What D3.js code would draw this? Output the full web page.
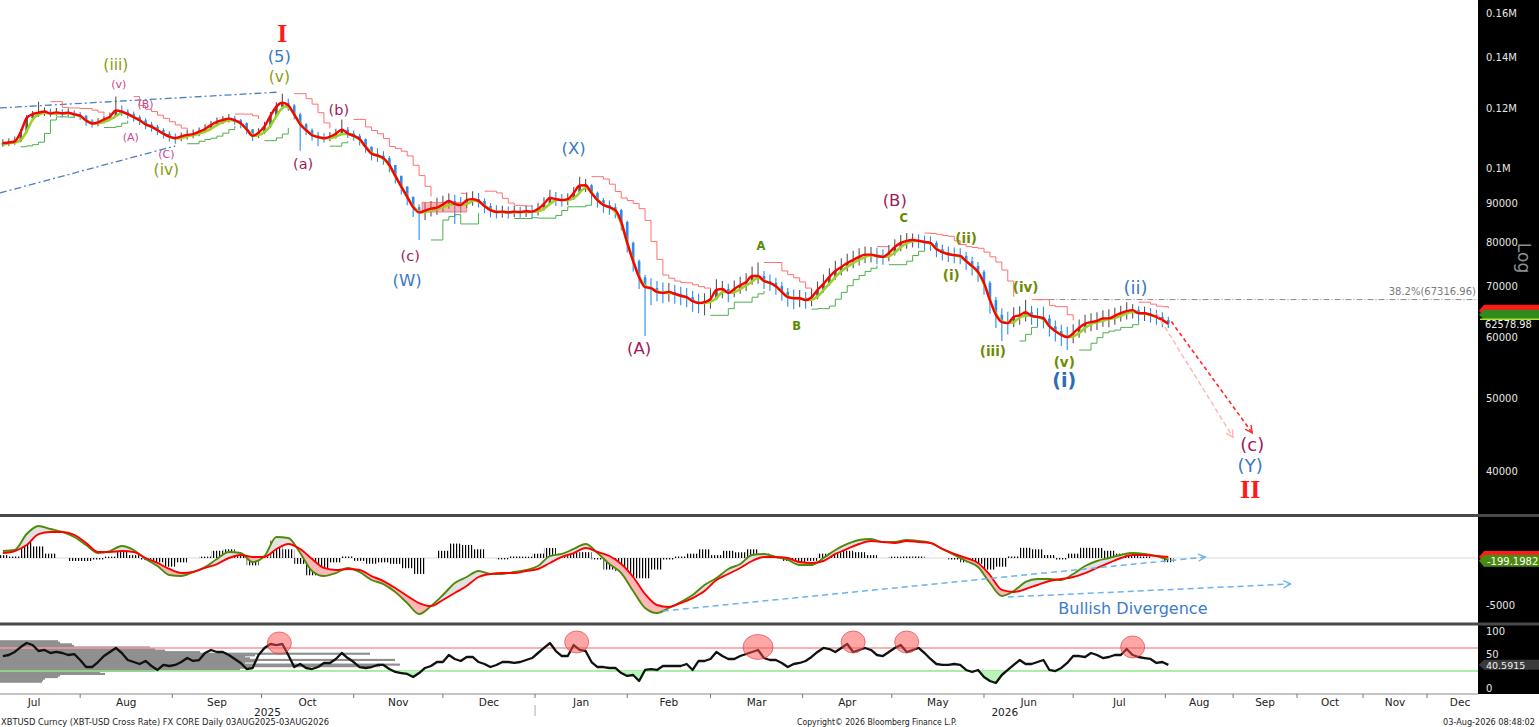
<!DOCTYPE html>
<html>
<head>
<meta charset="utf-8">
<script src="https://cdn.jsdelivr.net/npm/d3@7/dist/d3.min.js"></script>
<style>
  html, body { margin:0; padding:0; background:#fff; overflow:hidden; }
  svg { display:block; }
  text { font-family: "DejaVu Sans", Verdana, sans-serif; }
</style>
</head>
<body>
<svg id="chart" width="1539" height="727"></svg>
<script>
// ================= DATA =================
const barStart = "2025-07-06";
const barStepDays = 2;
const firstOpenK = 107.5;
const closeK = [
 108.0,108.2,108.6,111.7,116.5,117.9,118.4,118.8,118.1,118.5,
 118.2,118.4,117.8,117.3,115.6,114.6,115.0,116.0,117.0,119.2,
 118.8,117.9,116.8,115.7,114.3,113.5,112.3,111.1,110.1,109.6,
 110.2,110.7,111.0,111.8,112.7,114.1,115.2,115.8,116.3,115.7,
 114.7,112.6,110.4,111.5,113.6,117.3,120.6,122.0,121.0,117.8,
 114.3,112.3,110.6,110.0,109.6,110.1,111.1,112.5,111.2,110.4,
 109.3,106.8,104.6,104.0,103.2,101.1,97.8,94.7,91.8,89.0,
 87.6,88.1,88.6,88.9,89.7,90.7,89.9,89.6,90.9,91.2,
 90.7,89.3,88.2,87.7,87.8,87.6,87.8,87.7,87.9,87.8,
 88.5,89.9,91.5,91.2,90.9,91.2,92.9,95.0,95.1,92.9,
 90.9,89.6,89.0,88.2,85.1,79.9,75.6,72.0,69.9,69.7,
 68.9,68.7,68.9,68.5,68.1,67.8,67.0,66.6,66.8,67.4,
 69.3,69.5,68.7,69.5,70.3,71.0,72.3,72.3,71.2,70.8,
 70.1,68.9,67.8,67.6,67.6,67.2,67.8,69.3,70.6,72.1,
 73.4,74.3,75.2,75.9,76.6,77.1,77.1,76.8,76.6,77.5,
 78.9,79.9,80.4,80.6,80.4,80.1,79.9,78.4,77.7,77.2,
 77.0,76.8,75.6,74.5,73.2,70.8,67.2,64.3,62.9,62.7,
 63.9,64.2,64.8,64.1,63.9,63.6,62.1,61.2,60.5,60.1,
 60.8,61.8,62.6,62.9,63.1,63.6,63.6,64.1,64.6,65.0,
 65.2,64.6,64.6,64.3,63.9,63.3,62.58];
const highK = [
 109.3,109.5,110.2,112.5,117.6,119.0,122.4,120.3,119.8,120.1,
 119.6,119.9,119.3,118.6,117.5,116.1,116.4,117.3,118.5,124.3,
 121.0,119.6,118.8,117.5,116.4,115.2,114.1,113.0,111.9,111.2,
 111.5,112.2,112.5,113.2,114.3,115.5,116.7,117.2,117.9,117.3,
 116.2,114.9,112.5,113.0,115.2,118.6,122.2,125.4,123.5,121.5,
 118.4,114.8,112.9,111.8,111.3,111.7,112.8,116.0,113.4,112.2,
 111.1,109.5,106.9,106.3,105.4,103.9,101.0,97.9,94.8,91.9,
 89.8,90.2,90.7,91.6,92.1,92.8,92.4,91.8,93.0,93.4,
 92.9,91.4,90.1,89.5,89.4,89.2,89.3,89.1,89.4,89.5,
 90.2,91.7,93.8,93.2,92.6,92.8,94.6,97.6,96.9,95.4,
 93.3,91.5,90.8,90.0,88.6,85.5,80.2,76.0,72.5,71.8,
 71.2,70.9,70.8,70.4,70.0,69.7,69.1,68.5,68.6,69.4,
 71.6,71.2,70.6,71.3,72.1,72.9,74.4,75.3,73.4,72.6,
 71.9,71.0,69.7,69.4,69.3,68.9,69.5,71.1,72.6,74.0,
 75.7,76.3,77.3,78.0,78.6,79.0,78.9,78.7,78.4,79.4,
 80.8,81.8,82.3,82.2,82.0,81.7,81.5,80.4,79.5,79.0,
 78.8,78.6,77.7,76.6,75.4,73.6,71.2,67.9,65.6,64.9,
 65.8,66.0,67.3,66.1,65.6,65.9,64.3,63.2,62.4,62.0,
 62.5,63.4,64.3,64.6,64.8,65.2,65.4,65.7,66.1,66.8,
 66.4,66.0,65.9,65.6,65.3,64.8,63.9];
const lowK = [
 106.8,107.1,107.5,108.3,111.2,115.8,116.9,117.2,116.9,117.3,
 116.8,117.1,116.5,115.9,113.8,113.2,113.6,114.7,115.6,116.9,
 117.2,116.3,115.2,114.1,112.6,111.8,110.7,109.5,108.5,107.8,
 108.6,109.2,109.6,110.3,111.3,112.5,113.8,114.4,114.9,114.2,
 113.0,110.9,108.8,109.7,111.0,113.1,116.8,119.6,119.0,116.0,
 105.5,110.6,108.8,107.0,108.1,108.6,109.5,110.8,109.7,108.8,
 107.2,104.9,102.5,102.0,101.2,98.9,95.6,92.5,89.5,86.4,
 80.6,85.6,86.5,87.0,87.8,88.6,84.6,87.5,88.8,89.4,
 88.9,87.4,86.3,86.0,86.2,86.0,86.3,86.2,86.4,86.1,
 86.8,88.1,89.7,89.3,89.1,89.5,91.0,92.8,93.2,91.0,
 88.9,87.5,87.0,86.1,83.0,77.6,73.3,69.5,60.3,66.2,
 67.0,66.6,66.9,66.5,66.2,65.8,64.9,64.6,64.2,65.5,
 67.3,67.6,66.8,67.8,68.5,69.1,70.4,70.6,69.5,69.1,
 68.3,67.1,65.9,65.4,65.8,65.5,66.0,67.4,68.8,70.2,
 71.5,72.4,73.3,74.0,74.6,75.2,75.3,74.9,74.8,75.6,
 76.9,77.9,78.5,78.8,78.6,78.3,78.0,76.5,75.8,75.4,
 75.1,74.9,73.6,72.4,71.0,68.3,64.5,61.8,59.4,60.6,
 61.9,62.4,63.0,62.4,62.1,61.7,60.2,59.3,58.5,57.8,
 59.0,60.0,60.9,61.2,61.4,62.0,61.9,62.4,63.0,63.4,
 63.6,63.0,63.1,62.8,62.4,61.9,61.8];

const macdStepDays = 4;
const macdVals = [
 740,850,2550,3400,3090,2770,2230,1380,530,740,
 1280,850,-110,-850,-1810,-1920,-1490,-960,-110,640,
 530,-430,210,2230,2130,530,-1380,-1920,-1600,-1060,
 -1490,-2340,-2770,-3620,-4790,-5960,-5110,-3940,-2660,-2020,
 -1380,-1700,-1700,-1490,-1280,-850,210,430,960,1490,
 530,-640,-1600,-3510,-5320,-5850,-5320,-4680,-3940,-2870,
 -2130,-1170,-640,320,430,110,-210,-740,-740,0,
 850,1490,1920,2020,1700,1700,1920,1810,1600,960,
 320,-320,-960,-2660,-4040,-3510,-2550,-2230,-2230,-2340,
 -1700,-850,-320,0,320,530,430,210,-199];
const signalVals = [
 530,740,1380,2550,2770,2770,2450,1600,640,640,
 740,640,0,-530,-1170,-1600,-1490,-1060,-640,0,
 320,110,110,960,1490,960,-110,-1060,-1280,-1170,
 -1280,-1920,-2450,-3190,-4040,-4790,-5110,-4470,-3720,-2980,
 -2020,-1700,-1600,-1600,-1380,-1170,-530,110,530,1060,
 640,210,-640,-2020,-3830,-5000,-5210,-4790,-4260,-3510,
 -2340,-1700,-1060,-320,110,110,0,-430,-530,-320,
 430,960,1490,1810,1700,1600,1810,1700,1600,960,
 430,0,-530,-1810,-3400,-3620,-3300,-2870,-2450,-2230,
 -2020,-1600,-1060,-530,0,320,320,210,110];

const rsiVals = [
 56.1,57.9,63.2,71.9,78.9,75.4,64.9,66.7,61.4,63.2,
 61.4,57.9,59.6,49.1,36.8,36.8,45.6,56.1,63.2,70.2,
 61.4,49.1,45.6,42.1,47.4,38.6,31.6,40.4,38.6,40.4,
 45.6,52.6,47.4,49.1,61.4,66.7,63.2,63.2,57.9,50.9,
 43.9,33.3,35.1,57.9,70.2,77.2,75.4,77.2,57.9,36.8,
 42.1,35.1,33.3,36.8,43.9,43.9,50.9,61.4,52.6,45.6,
 36.8,35.1,36.8,40.4,40.4,33.3,28.1,26.3,24.6,19.3,
 26.3,35.1,38.6,45.6,45.6,57.9,50.9,47.4,54.4,54.4,
 45.6,42.1,36.8,40.4,45.6,45.6,43.9,45.6,49.1,52.6,
 61.4,70.2,78.9,64.9,56.1,56.1,75.4,66.7,64.9,45.6,
 36.8,36.8,35.1,35.1,26.3,21.1,22.8,12.3,31.6,33.3,
 31.6,38.6,38.6,38.6,38.6,42.1,31.6,47.4,47.4,50.9,
 63.2,56.1,50.9,50.9,56.1,59.6,63.2,66.7,52.6,49.1,
 49.1,43.9,36.8,42.1,43.9,47.4,54.4,63.2,70.2,68.4,
 63.2,70.2,77.2,63.2,66.7,70.2,66.7,57.9,56.1,63.2,
 70.2,75.4,63.2,66.7,70.2,61.4,50.9,42.1,40.4,40.4,
 42.1,40.4,31.6,28.1,31.6,19.3,12.3,8.8,22.8,31.6,
 40.4,49.1,42.1,42.1,45.6,49.1,31.6,29.8,35.1,43.9,
 56.1,56.1,54.4,61.4,57.9,52.6,54.4,57.9,57.9,68.4,
 57.9,54.4,52.6,50.9,43.9,45.6,40.59];

const profileVolume = [58,60,72,74,150,155,165,200,370,255,245,250,395,255,245,400,380,250,240,155,100,105,60,58,45,43,42];

const priceTicks = [160000,140000,120000,100000,90000,80000,70000,60000,50000,40000];
const priceTickLabels = ["0.16M","0.14M","0.12M","0.1M","90000","80000","70000","60000","50000","40000"];

const waveText   = ["I","(5)","(v)","(iii)","(v)","(B)","(A)","(C)","(iv)","(a)","(b)","(c)","(W)","(X)","(A)","A","B","(B)","C","(ii)","(i)","(iv)","(iii)","(v)","(i)","(ii)","(c)","(Y)","II"];
const waveDegree = ["cycle","primary","minor","minor","minute","minute","minute","minute","minor","inter","inter","inter","primary","primary","interL","abc","abc","interL","abc","minorB","minorB","minorB","minorB","minorB","primaryB","primaryL","interXL","primaryL","cycleL"];
const waveDate   = ["2025-10-08","2025-10-07","2025-10-07","2025-08-13","2025-08-14","2025-08-23","2025-08-18","2025-08-30","2025-08-30","2025-10-15","2025-10-27","2025-11-20","2025-11-19","2026-01-14","2026-02-05","2026-03-18","2026-03-30","2026-05-02","2026-05-05","2026-05-26","2026-05-21","2026-06-15","2026-06-04","2026-06-28","2026-06-28","2026-07-22","2026-09-10","2026-09-09","2026-09-09"];
const wavePriceK = [150.6,140.1,131.9,136.7,129.1,121.2,109.7,104.2,99.6,101.4,119.4,76.8,71.4,106.1,58.0,79.1,62.1,90.7,86.1,81.1,72.5,69.9,57.7,55.8,52.8,69.9,43.4,40.8,37.9];

const trendUpper = [["2025-07-05",120.1],["2025-10-07",126.0]];
const trendLower = [["2025-07-05",92.9],["2025-09-02",107.1]];
const zoneDates = ["2025-11-24","2025-12-09"];
const zonePriceK = [87.7, 90.3];
const fibLevel = 67316.96, fibStart = "2026-06-19", fibLabel = "38.2%(67316.96)";
const projRed  = [["2026-08-03",63.0],["2026-09-10",45.0]];
const projPink = [["2026-07-29",64.6],["2026-09-01",44.4]];
const divLine1 = [["2026-02-13",-5640],["2026-08-19",106]];
const divLine2 = [["2026-06-09",-4150],["2026-09-28",-2766]];
const divText = "Bullish Divergence", divTextAt = ["2026-06-26",-5320];
const rsiCircleDates = ["2025-10-07","2026-01-15","2026-03-17","2026-04-18","2026-05-06","2026-07-21"];
const rsiCircleVals  = [79,80.7,72,80.7,80.7,72];
const lastClose = 62578.98, lastRedMA = 65100, lastGreenMA = 64300;
const lastMacdText = "-199.1982", lastRsiText = "40.5915";
const yearLabels = [["2025","2025-10-03"],["2026","2026-06-08"]];
const footLeft = "XBTUSD Curncy (XBT-USD Cross Rate) FX CORE Daily 03AUG2025-03AUG2026";
const footMid = "Copyright\u00A9 2026 Bloomberg Finance L.P.";
const footRight = "03-Aug-2026 08:48:02";

// ================= RENDER =================
const W = 1539, H = 727, PR = 1478;
const svg = d3.select("#chart");
const P = d3.utcParse("%Y-%m-%d");
const x = d3.scaleUtc().domain([P("2025-07-01"), P("2026-08-03"), P("2026-12-01")]).range([-12, 1171.3, 1427]);
const yP = d3.scaleLog().domain([160000, 40000]).range([13, 471.9]);
const yM = d3.scaleLinear().domain([0, -5000]).range([558, 605]);
const yH = d3.scaleLinear().domain([0, -5000]).range([558, 626]);
const yR = d3.scaleLinear().domain([0, 100]).range([688, 631]);

const defs = svg.append("defs");
function clip(id, x0, y0, w, h) {
  defs.append("clipPath").attr("id", id).append("rect").attr("x", x0).attr("y", y0).attr("width", w).attr("height", h);
}
clip("clipMain", 0, 0, PR, 514);
clip("clipMacd", 0, 517, PR, 105);
clip("clipRsi", 0, 626, PR, 67);
const pat = defs.append("pattern").attr("id", "comb").attr("patternUnits", "userSpaceOnUse").attr("width", 3).attr("height", 6);
pat.append("rect").attr("x", 0).attr("y", 0).attr("width", 1.2).attr("height", 6).attr("fill", "#000");
function marker(id, color) {
  defs.append("marker").attr("id", id).attr("viewBox", "0 0 10 10").attr("refX", 9).attr("refY", 5)
    .attr("markerWidth", 9).attr("markerHeight", 9).attr("markerUnits", "userSpaceOnUse").attr("orient", "auto")
    .append("path").attr("d", "M1,1 L9,5 L1,9").attr("fill", "none").attr("stroke", color).attr("stroke-width", 1.5);
}
marker("mRed", "#ff2a2a"); marker("mPink", "#ffb4b4"); marker("mBlue", "#6cb2f2");

svg.append("rect").attr("width", W).attr("height", H).attr("fill", "#fff");

// ---------- main panel ----------
const t0 = P(barStart);
const bars = closeK.map((c, i) => {
  const o = (i ? closeK[i - 1] : firstOpenK) * 1000, cc = c * 1000;
  return { date: d3.utcDay.offset(t0, i * barStepDays), o, c: cc,
           h: Math.max(highK[i] * 1000, o, cc), l: Math.min(lowK[i] * 1000, o, cc) };
});
const gM = svg.append("g").attr("clip-path", "url(#clipMain)");

// trendlines
const ptLine = d3.line().x(d => x(P(d[0]))).y(d => yP(d[1] * 1000));
[trendUpper, trendLower].forEach(t => gM.append("path").attr("d", ptLine(t)).attr("fill", "none")
  .attr("stroke", "#4a7fc1").attr("stroke-width", 1.3).attr("stroke-dasharray", "7,3,2,3"));

// fib line
gM.append("line").attr("x1", x(P(fibStart))).attr("x2", PR).attr("y1", yP(fibLevel)).attr("y2", yP(fibLevel))
  .attr("stroke", "#8a8a8a").attr("stroke-width", 1).attr("stroke-dasharray", "6,2,1,2");
gM.append("text").attr("x", PR - 2).attr("y", yP(fibLevel) - 5).attr("text-anchor", "end")
  .attr("font-size", 10).attr("fill", "#7a7a7a").text(fibLabel);

// step (trailing) lines
const stepData = bars.map((b, i) => {
  if (i < 3) return { date: b.date, u: null, l: null };
  const u = d3.max(highK.slice(i - 3, i)) * 1000, l = d3.min(lowK.slice(i - 3, i)) * 1000;
  const tr = (closeK[i] - closeK[i - 3]) / closeK[i];
  return { date: b.date, u: tr <= 0.006 ? u : null, l: tr >= -0.006 ? l : null };
});
gM.append("path").attr("d", d3.line().defined(d => d.u != null).x(d => x(d.date)).y(d => yP(d.u)).curve(d3.curveStepAfter)(stepData))
  .attr("fill", "none").attr("stroke", "#ff7070").attr("stroke-width", 1);
gM.append("path").attr("d", d3.line().defined(d => d.l != null).x(d => x(d.date)).y(d => yP(d.l)).curve(d3.curveStepAfter)(stepData))
  .attr("fill", "none").attr("stroke", "#4fae4f").attr("stroke-width", 1);

// candles
const gC = gM.append("g");
bars.forEach(b => {
  const col = b.c >= b.o ? "#555" : "#2a8cf0";
  const xx = x(b.date);
  gC.append("line").attr("x1", xx).attr("x2", xx).attr("y1", yP(b.h)).attr("y2", yP(b.l)).attr("stroke", col).attr("stroke-width", 1.1);
  const yt = yP(Math.max(b.o, b.c)), yb = yP(Math.min(b.o, b.c));
  gC.append("rect").attr("x", xx - 1.3).attr("width", 2.6).attr("y", yt).attr("height", Math.max(1.2, yb - yt)).attr("fill", col);
});

// zone box
gM.append("rect").attr("x", x(P(zoneDates[0]))).attr("width", x(P(zoneDates[1])) - x(P(zoneDates[0])))
  .attr("y", yP(zonePriceK[1] * 1000)).attr("height", yP(zonePriceK[0] * 1000) - yP(zonePriceK[1] * 1000))
  .attr("fill", "rgba(240,90,90,0.45)").attr("stroke", "rgba(230,70,70,0.55)").attr("stroke-width", 1);

// moving-average lines
gM.append("path").attr("d", d3.line().x(d => x(d.date)).y(d => yP(Math.min(d.o, d.c))).curve(d3.curveBasis)(bars))
  .attr("fill", "none").attr("stroke", "#9ad12a").attr("stroke-width", 2.6);
gM.append("path").attr("d", d3.line().x(d => x(d.date)).y(d => yP(d.c)).curve(d3.curveMonotoneX)(bars))
  .attr("fill", "none").attr("stroke", "#ff0000").attr("stroke-width", 2.4);

// projections
gM.append("path").attr("d", ptLine(projPink)).attr("fill", "none").attr("stroke", "#ffb4b4")
  .attr("stroke-width", 1.4).attr("stroke-dasharray", "5,3").attr("marker-end", "url(#mPink)");
gM.append("path").attr("d", ptLine(projRed)).attr("fill", "none").attr("stroke", "#ff2a2a")
  .attr("stroke-width", 1.6).attr("stroke-dasharray", "4,3").attr("marker-end", "url(#mRed)");

// wave labels
const serif = "'Liberation Serif','DejaVu Serif',serif";
const LS = {
  cycle:   { c: "#ff1a1a", s: 26, w: "bold", f: serif },
  cycleL:  { c: "#ff1a1a", s: 26, w: "bold", f: serif },
  primary: { c: "#3b78c2", s: 16.5, w: "normal" },
  primaryL:{ c: "#3b78c2", s: 18, w: "normal" },
  primaryB:{ c: "#2d6db8", s: 19, w: "bold" },
  inter:   { c: "#a01a5c", s: 14.5, w: "normal" },
  interL:  { c: "#a01a5c", s: 16.5, w: "normal" },
  interXL: { c: "#a01a5c", s: 18, w: "normal" },
  minor:   { c: "#8b9c12", s: 15.5, w: "normal" },
  minute:  { c: "#cc4593", s: 11, w: "normal" },
  abc:     { c: "#5a8c00", s: 11.5, w: "bold" },
  minorB:  { c: "#6f8c00", s: 13.5, w: "bold" }
};
waveText.forEach((t, i) => {
  const st = LS[waveDegree[i]];
  const tx = svg.append("text").attr("x", x(P(waveDate[i]))).attr("y", yP(wavePriceK[i] * 1000))
    .attr("text-anchor", "middle").attr("dominant-baseline", "central")
    .attr("font-size", st.s).attr("font-weight", st.w).attr("fill", st.c).text(t);
  if (st.f) tx.style("font-family", st.f);
});

// ---------- MACD panel ----------
const gD = svg.append("g").attr("clip-path", "url(#clipMacd)");
const macdData = macdVals.map((v, i) => ({ date: d3.utcDay.offset(t0, i * macdStepDays), m: v, s: signalVals[i] }));
gD.append("line").attr("x1", 0).attr("x2", PR).attr("y1", yM(0)).attr("y2", yM(0)).attr("stroke", "#d9d9d9").attr("stroke-width", 1);
macdData.forEach(d => {
  const h = d.m - d.s;
  const x0 = x(d3.utcDay.offset(d.date, -2)), x1 = x(d3.utcDay.offset(d.date, 2));
  const ya = yH(0), yb = yH(h);
  if (Math.abs(yb - ya) < 0.5) return;
  gD.append("rect").attr("x", x0).attr("width", x1 - x0).attr("y", Math.min(ya, yb)).attr("height", Math.abs(yb - ya)).attr("fill", "url(#comb)");
});
const cv = d3.curveMonotoneX;
defs.append("clipPath").attr("id", "clipAboveSig").append("path")
  .attr("d", d3.area().x(d => x(d.date)).y0(517).y1(d => yM(d.s)).curve(cv)(macdData));
defs.append("clipPath").attr("id", "clipBelowSig").append("path")
  .attr("d", d3.area().x(d => x(d.date)).y0(622).y1(d => yM(d.s)).curve(cv)(macdData));
const between = d3.area().x(d => x(d.date)).y0(d => yM(d.m)).y1(d => yM(d.s)).curve(cv);
gD.append("g").attr("clip-path", "url(#clipAboveSig)").append("path").attr("d", between(macdData)).attr("fill", "#e2e2e2");
gD.append("g").attr("clip-path", "url(#clipBelowSig)").append("path").attr("d", between(macdData)).attr("fill", "#ffb8b8");
gD.append("path").attr("d", d3.line().x(d => x(d.date)).y(d => yM(d.m)).curve(cv)(macdData))
  .attr("fill", "none").attr("stroke", "#4e8a0a").attr("stroke-width", 1.9);
gD.append("path").attr("d", d3.line().x(d => x(d.date)).y(d => yM(d.s)).curve(cv)(macdData))
  .attr("fill", "none").attr("stroke", "#ff0000").attr("stroke-width", 1.9);
const mLine = d3.line().x(d => x(P(d[0]))).y(d => yM(d[1]));
[divLine1, divLine2].forEach(l => gD.append("path").attr("d", mLine(l)).attr("fill", "none").attr("stroke", "#6cb2f2")
  .attr("stroke-width", 1.5).attr("stroke-dasharray", "6,4").attr("marker-end", "url(#mBlue)"));
gD.append("text").attr("x", x(P(divTextAt[0]))).attr("y", yM(divTextAt[1])).attr("dominant-baseline", "central")
  .attr("font-size", 16).attr("fill", "#3d7cc9").text(divText);

// ---------- RSI panel ----------
const gR = svg.append("g").attr("clip-path", "url(#clipRsi)");
const yProf = d3.scaleBand().domain(d3.range(profileVolume.length)).range([640.5, 682.5]);
const xProf = d3.scaleLinear().domain([0, 400]).range([0, 400]);
profileVolume.forEach((v, i) => gR.append("rect").attr("x", 0).attr("y", yProf(i) - 0.3).attr("width", xProf(v))
  .attr("height", yProf.bandwidth() + 0.6).attr("fill", "#8f8f8f"));
gR.append("line").attr("x1", 0).attr("x2", PR).attr("y1", yR(70)).attr("y2", yR(70)).attr("stroke", "#f59a9a").attr("stroke-width", 1.5);
gR.append("line").attr("x1", 0).attr("x2", PR).attr("y1", yR(30)).attr("y2", yR(30)).attr("stroke", "#8de88d").attr("stroke-width", 1.5);
const rsiData = rsiVals.slice(0, bars.length).map((v, i) => ({ date: bars[i].date, v }));
gR.append("path").attr("d", d3.area().x(d => x(d.date)).y0(yR(30)).y1(d => yR(Math.min(d.v, 30)))(rsiData)).attr("fill", "#b8f5b8");
gR.append("path").attr("d", d3.line().x(d => x(d.date)).y(d => yR(d.v))(rsiData))
  .attr("fill", "none").attr("stroke", "#111").attr("stroke-width", 2.3).attr("stroke-linejoin", "round");
rsiCircleDates.forEach((d, i) => gR.append("ellipse").attr("cx", x(P(d))).attr("cy", yR(rsiCircleVals[i]))
  .attr("rx", i === 2 ? 15 : 12).attr("ry", i === 2 ? 12.5 : 11)
  .attr("fill", "rgba(255,80,80,0.5)").attr("stroke", "rgba(225,50,50,0.6)").attr("stroke-width", 1));

// ---------- frame, right panel, axes ----------
svg.append("rect").attr("x", PR).attr("y", 0).attr("width", W - PR).attr("height", 694).attr("fill", "#000");
svg.append("rect").attr("x", 0).attr("y", 514).attr("width", W).attr("height", 3).attr("fill", "#4a4a4a");
svg.append("rect").attr("x", 0).attr("y", 622.5).attr("width", W).attr("height", 3).attr("fill", "#4a4a4a");
svg.append("line").attr("x1", 0).attr("x2", PR).attr("y1", 694).attr("y2", 694).attr("stroke", "#8a8a8a").attr("stroke-width", 1);

// price axis labels
priceTicks.forEach((v, i) => svg.append("text").attr("x", 1486).attr("y", yP(v)).attr("dominant-baseline", "central")
  .attr("font-size", 10).attr("fill", "#e6e6e6").text(priceTickLabels[i]));
svg.append("text").attr("transform", "translate(1524,258) rotate(90)").attr("text-anchor", "middle")
  .attr("dominant-baseline", "central").attr("font-size", 17).attr("fill", "#8f8f8f").text("Log");

function tag(yc, h, color) {
  const x0 = 1479;
  svg.append("polygon").attr("points", [[x0, yc], [x0 + 5, yc - h / 2], [W, yc - h / 2], [W, yc + h / 2], [x0 + 5, yc + h / 2]].map(p => p.join(",")).join(" "))
    .attr("fill", color);
}
tag(yP(lastRedMA), 12, "#ff1a1a");
tag(yP(lastGreenMA), 10, "#2e8b1e");
svg.append("line").attr("x1", 1480).attr("x2", W).attr("y1", yP(lastGreenMA) + 4.5).attr("y2", yP(lastGreenMA) + 4.5).attr("stroke", "#b5e02a").attr("stroke-width", 1.5);
svg.append("text").attr("x", 1485).attr("y", yP(lastClose) + 1).attr("dominant-baseline", "central")
  .attr("font-size", 9.8).attr("fill", "#f0f0f0").text(d3.format(".2f")(lastClose));

// MACD axis
svg.append("text").attr("x", 1486).attr("y", yM(-5000)).attr("dominant-baseline", "central").attr("font-size", 10).attr("fill", "#e6e6e6").text("-5000");
tag(yM(signalVals[signalVals.length - 1]), 12, "#ff1a1a");
tag(yM(macdVals[macdVals.length - 1]) + 1, 12, "#4a8a10");
svg.append("text").attr("x", 1487).attr("y", yM(macdVals[macdVals.length - 1]) + 1.5).attr("dominant-baseline", "central")
  .attr("font-size", 10).attr("fill", "#fff").text(lastMacdText);

// RSI axis
[[100, "100", 0], [50, "50", -5], [0, "0", 0]].forEach(d => svg.append("text").attr("x", 1486).attr("y", yR(d[0]) + d[2])
  .attr("dominant-baseline", "central").attr("font-size", 10).attr("fill", "#e6e6e6").text(d[1]));
tag(yR(rsiVals[rsiVals.length - 1]), 10, "#3a3a3a");
svg.append("text").attr("x", 1486).attr("y", yR(rsiVals[rsiVals.length - 1]) + 1).attr("dominant-baseline", "central")
  .attr("font-size", 9.5).attr("fill", "#f0f0f0").text(lastRsiText);

// time axis
const months = d3.utcMonths(P("2025-07-01"), P("2027-01-01"));
const fmt = d3.utcFormat("%b");
months.forEach(m => {
  const xs = x(m), xe = x(d3.utcMonth.offset(m, 1));
  if (xs > 0 && xs < PR) svg.append("line").attr("x1", xs).attr("x2", xs).attr("y1", 694).attr("y2", 698).attr("stroke", "#777");
  const xc = (xs + xe) / 2;
  if (xc > 0 && xc < PR) svg.append("text").attr("x", xc).attr("y", 701.5).attr("text-anchor", "middle")
    .attr("dominant-baseline", "central").attr("font-size", 10.5).attr("fill", "#222").text(fmt(m));
});
svg.append("line").attr("x1", x(P("2026-01-01"))).attr("x2", x(P("2026-01-01"))).attr("y1", 705).attr("y2", 716).attr("stroke", "#aaa");
yearLabels.forEach(d => svg.append("text").attr("x", x(P(d[1]))).attr("y", 711.5).attr("text-anchor", "middle")
  .attr("dominant-baseline", "central").attr("font-size", 10.5).attr("fill", "#222").text(d[0]));

// footer
svg.append("text").attr("x", 1).attr("y", 721.5).attr("dominant-baseline", "central").attr("font-size", 9)
  .attr("textLength", 328).attr("lengthAdjust", "spacingAndGlyphs").attr("fill", "#222").text(footLeft);
svg.append("text").attr("x", 797).attr("y", 721.5).attr("dominant-baseline", "central").attr("font-size", 8.5)
  .attr("textLength", 160).attr("lengthAdjust", "spacingAndGlyphs").attr("fill", "#222").text(footMid);
svg.append("text").attr("x", 1443).attr("y", 721.5).attr("dominant-baseline", "central").attr("font-size", 8.5)
  .attr("textLength", 92).attr("lengthAdjust", "spacingAndGlyphs").attr("fill", "#222").text(footRight);
</script>
</body>
</html>
